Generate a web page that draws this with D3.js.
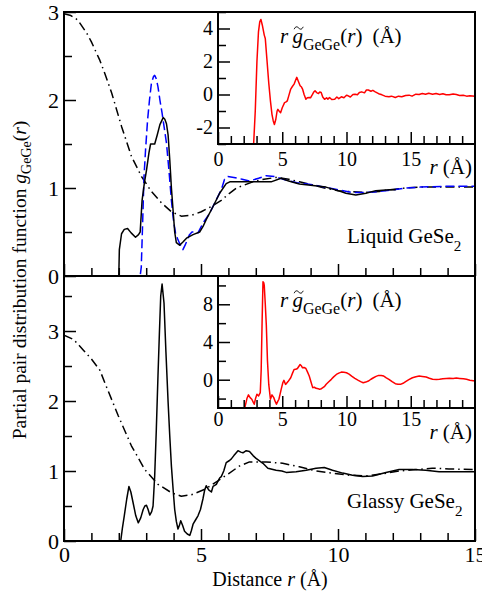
<!DOCTYPE html>
<html>
<head>
<meta charset="utf-8">
<script src="https://cdn.jsdelivr.net/npm/d3@7"></script>
<style>
  body { margin: 0; background: #fff; }
  svg { display: block; }
  svg text { font-family: "Liberation Serif", "DejaVu Serif", serif !important; fill: #000; }
</style>
</head>
<body>
<div id="chart"></div>
<script>
// --- data: [r (Å), value] ---
const liquidSolid = [[0,0],[2.0,0],[2.02,0.3],[2.1,0.48],[2.2,0.53],[2.32,0.54],[2.45,0.49],[2.61,0.44],[2.72,0.47],[2.78,0.5],[2.85,0.86],[2.93,1.05],[3.01,1.2],[3.1,1.4],[3.16,1.5],[3.31,1.5],[3.4,1.6],[3.5,1.72],[3.62,1.80],[3.68,1.78],[3.74,1.73],[3.8,1.6],[3.86,1.32],[3.92,1.0],[3.98,0.75],[4.04,0.5],[4.1,0.38],[4.22,0.35],[4.35,0.39],[4.47,0.43],[4.71,0.47],[4.95,0.5],[5.07,0.56],[5.19,0.64],[5.44,0.79],[5.68,0.94],[5.92,1.05],[6.05,1.07],[6.5,1.07],[7.0,1.07],[7.56,1.07],[7.92,1.11],[8.2,1.08],[8.59,1.045],[9.0,1.03],[9.56,1.01],[10.0,0.97],[10.29,0.94],[10.65,0.92],[11.02,0.94],[11.38,0.97],[11.87,0.98],[12.11,0.98]];
const liquidDashed = [[0,0],[2.78,0],[2.82,0.1],[2.86,0.5],[2.92,1.13],[2.98,1.45],[3.05,1.77],[3.12,2.0],[3.19,2.19],[3.27,2.27],[3.31,2.28],[3.37,2.24],[3.43,2.15],[3.5,2.0],[3.58,1.85],[3.66,1.68],[3.74,1.51],[3.83,1.2],[3.92,0.86],[4.0,0.62],[4.07,0.49],[4.15,0.42],[4.22,0.37],[4.34,0.3],[4.42,0.35],[4.5,0.41],[4.58,0.47],[4.67,0.5],[4.78,0.5],[4.89,0.49],[5.07,0.6],[5.31,0.71],[5.5,0.83],[5.74,0.98],[5.86,1.1],[5.98,1.13],[6.2,1.12],[6.5,1.1],[6.77,1.08],[7.1,1.11],[7.38,1.14],[7.7,1.13],[8.0,1.1],[8.5,1.06],[9.0,1.04],[9.5,1.01],[10.0,0.98],[10.5,0.95],[11.0,0.95],[11.5,0.96],[12.0,0.98],[12.5,1.0],[13.0,1.01],[14.0,1.02],[15.0,1.02]];
const liquidModel = [[0,2.98],[0.25,2.96],[0.5,2.91],[0.83,2.76],[1.0,2.66],[1.31,2.45],[1.49,2.3],[1.74,2.08],[2.1,1.70],[2.46,1.36],[2.83,1.13],[3.19,0.96],[3.56,0.83],[3.92,0.73],[4.28,0.68],[4.65,0.69],[5.01,0.73],[5.38,0.79],[5.74,0.86],[6.04,0.94],[6.3,1.0],[6.89,1.07],[7.3,1.1],[7.74,1.12],[8.2,1.1],[8.59,1.07],[9.0,1.04],[9.5,1.0],[10.0,0.97],[10.41,0.96],[11.0,0.95],[11.5,0.96],[11.87,0.98],[12.47,1.0],[13.0,1.01],[15.0,1.01]];
const liquidInset = [[2.76,-3.2],[2.9,-1],[3.03,2.0],[3.15,3.8],[3.25,4.4],[3.34,4.55],[3.45,4.2],[3.6,3.6],[3.68,3.39],[3.8,2.2],[3.95,0.7],[4.08,-0.39],[4.2,-1.2],[4.3,-1.6],[4.39,-1.82],[4.5,-1.5],[4.6,-1.0],[4.66,-0.9],[4.75,-1.0],[4.87,-1.1],[5.0,-0.8],[5.18,-0.49],[5.3,-0.45],[5.39,-0.39],[5.5,-0.1],[5.66,0.33],[5.8,0.5],[5.92,0.63],[6.03,0.85],[6.13,1.04],[6.25,0.8],[6.39,0.53],[6.5,0.45],[6.58,0.33],[6.7,0.0],[6.84,-0.29],[6.95,-0.2],[7.1,-0.18],[7.2,-0.2],[7.32,-0.04],[7.45,0.15],[7.55,0.22],[7.7,0.1],[7.82,0.06],[7.92,0.15],[8.03,0.12],[8.15,-0.15],[8.29,-0.29],[8.45,-0.2],[8.55,-0.28],[8.68,-0.18],[8.85,-0.3],[9.08,-0.29],[9.25,-0.15],[9.4,-0.25],[9.6,-0.14],[9.8,-0.2],[10.0,-0.05],[10.13,-0.08],[10.3,-0.15],[10.5,0.0],[10.66,0.02],[10.85,-0.02],[11.0,0.12],[11.18,0.16],[11.4,0.1],[11.55,0.27],[11.7,0.27],[11.9,0.2],[12.05,0.25],[12.24,0.16],[12.5,0.05],[12.76,-0.02],[13.0,-0.1],[13.3,-0.14],[13.5,-0.1],[13.8,-0.18],[14.05,-0.1],[14.3,-0.14],[14.6,-0.06],[14.87,-0.04],[15.1,-0.1],[15.4,0.02],[15.65,0.0],[15.9,0.06],[16.15,0.02],[16.4,0.08],[16.7,0.02],[16.97,0.06],[17.25,0.0],[17.5,0.05],[17.75,-0.02],[18.0,-0.02],[18.3,0.03],[18.55,0.0],[18.8,-0.06],[19.08,-0.04],[19.35,-0.1],[19.6,-0.08],[20.0,-0.1]];

const glassySolid = [[0,0],[2.07,0],[2.13,0.18],[2.2,0.36],[2.29,0.6],[2.37,0.78],[2.44,0.7],[2.52,0.55],[2.62,0.36],[2.71,0.26],[2.8,0.33],[2.89,0.45],[2.95,0.5],[3.01,0.51],[3.07,0.45],[3.13,0.37],[3.2,0.42],[3.25,0.5],[3.31,0.93],[3.37,1.6],[3.43,2.36],[3.48,2.95],[3.53,3.5],[3.58,3.67],[3.65,3.4],[3.72,2.7],[3.8,1.98],[3.86,1.5],[3.92,1.07],[3.98,0.75],[4.04,0.45],[4.1,0.28],[4.16,0.17],[4.21,0.22],[4.26,0.29],[4.33,0.22],[4.4,0.14],[4.5,0.1],[4.59,0.08],[4.65,0.15],[4.71,0.24],[4.8,0.3],[4.89,0.36],[4.98,0.45],[5.07,0.6],[5.13,0.72],[5.19,0.79],[5.28,0.73],[5.38,0.7],[5.44,0.78],[5.56,0.81],[5.68,0.9],[5.74,0.92],[5.83,1.0],[5.92,1.12],[6.04,1.15],[6.1,1.17],[6.2,1.22],[6.35,1.29],[6.45,1.27],[6.53,1.26],[6.65,1.29],[6.77,1.28],[6.9,1.22],[7.01,1.18],[7.26,1.11],[7.44,1.04],[7.74,1.01],[7.95,1.0],[8.11,0.98],[8.47,0.99],[8.84,1.01],[9.2,1.04],[9.5,1.05],[9.8,1.01],[10.17,0.97],[10.53,0.94],[10.9,0.92],[11.26,0.93],[11.75,0.98],[12.23,1.02],[12.72,1.02],[13.2,1.01],[13.69,0.99],[14.17,0.99],[14.66,0.99],[15,0.99]];
const glassyModel = [[0,2.94],[0.35,2.88],[0.7,2.73],[1.0,2.6],[1.31,2.44],[1.49,2.26],[1.98,1.79],[2.46,1.36],[2.95,1.02],[3.43,0.81],[3.92,0.69],[4.28,0.64],[4.65,0.66],[5.15,0.74],[5.62,0.86],[6.0,0.96],[6.4,1.07],[6.77,1.13],[7.38,1.13],[7.98,1.11],[8.59,1.06],[9.2,1.0],[9.8,0.97],[10.41,0.94],[11.02,0.93],[11.62,0.96],[12.23,1.0],[12.84,1.02],[13.44,1.04],[14.05,1.03],[15,1.02]];
const glassyInset = [[1.97,-3.2],[2.1,-2.9],[2.25,-2.0],[2.37,-1.61],[2.5,-1.9],[2.63,-2.07],[2.75,-2.4],[2.82,-2.6],[2.92,-2.0],[3.03,-1.54],[3.16,-1.72],[3.29,-1.37],[3.36,1.0],[3.43,6.0],[3.5,10.4],[3.56,10.3],[3.6,10.0],[3.68,8.0],[3.76,5.8],[3.85,2.0],[3.95,-0.5],[4.08,-2.07],[4.2,-1.61],[4.34,-1.9],[4.45,-2.3],[4.55,-2.6],[4.65,-2.3],[4.74,-2.07],[4.92,-1.0],[5.05,-0.3],[5.13,-0.07],[5.26,-0.5],[5.45,-0.2],[5.66,0.21],[5.8,0.7],[5.92,1.09],[6.05,1.1],[6.18,1.19],[6.39,1.61],[6.5,1.45],[6.58,1.26],[6.7,1.3],[6.84,1.19],[6.97,0.8],[7.1,0.39],[7.25,-0.3],[7.37,-0.84],[7.5,-0.8],[7.63,-0.91],[7.8,-0.95],[7.9,-1.02],[8.05,-0.95],[8.16,-0.84],[8.3,-0.7],[8.42,-0.49],[8.6,-0.25],[8.82,0.04],[9.0,0.3],[9.21,0.56],[9.4,0.7],[9.6,0.81],[9.8,0.78],[10.0,0.74],[10.2,0.6],[10.4,0.39],[10.65,0.15],[10.92,-0.07],[11.1,-0.2],[11.3,-0.32],[11.5,-0.25],[11.7,-0.14],[11.9,0.05],[12.1,0.21],[12.3,0.35],[12.5,0.46],[12.7,0.44],[12.9,0.39],[13.1,0.2],[13.3,0.04],[13.55,-0.2],[13.8,-0.42],[14.0,-0.48],[14.2,-0.49],[14.4,-0.38],[14.6,-0.21],[14.85,0.0],[15.13,0.21],[15.4,0.32],[15.66,0.39],[15.9,0.35],[16.2,0.28],[16.45,0.15],[16.7,0.04],[17.0,0.02],[17.24,0.04],[17.5,0.1],[17.76,0.14],[18.0,0.15],[18.3,0.14],[18.55,0.18],[18.8,0.14],[19.1,0.1],[19.34,0.04],[19.6,-0.05],[20.0,-0.14]];

// tick values
const mainXMajor = [0, 5, 10, 15];
const mainXMinor = d3.range(0, 16, 1);
const topYMajor = [0, 1, 2, 3];
const topYMinor = [0.5, 1.5, 2.5];
const botYMajor = [0, 1, 2, 3];
const botYMinor = [0.5, 1.5, 2.5, 3.5];
const insetXMajor = [0, 5, 10, 15];
const insetXMinor = d3.range(0, 21, 1);
const topInsetYMajor = [-2, 0, 2, 4];
const topInsetYMinor = [-3, -1, 1, 3, 5];
const botInsetYMajor = [0, 4, 8];
const botInsetYMinor = [-2, 2, 6, 10];

const W = 482, H = 599;
const svg = d3.select("#chart").append("svg").attr("width", W).attr("height", H);

const X0 = 64, X1 = 475;
const x = d3.scaleLinear().domain([0, 15]).range([X0, X1]);
const yTop = d3.scaleLinear().domain([0, 3]).range([276, 12]);
const yBot = d3.scaleLinear().domain([0, 3.786]).range([541, 276]);
const plain = d => String(d);   // keeps the plain hyphen in "-2"

let clipId = 0;
function clipRect(x0, y0, w, h) {
  const id = "clip" + (clipId++);
  svg.append("clipPath").attr("id", id).append("rect")
    .attr("x", x0).attr("y", y0).attr("width", w).attr("height", h);
  return "url(#" + id + ")";
}

function curve(g, data, xs, ys, color, dash, width) {
  g.append("path")
    .datum(data)
    .attr("fill", "none")
    .attr("stroke", color)
    .attr("stroke-width", width || 1.5)
    .attr("stroke-dasharray", dash || null)
    .attr("stroke-linejoin", "round")
    .attr("d", d3.line().x(d => xs(d[0])).y(d => ys(d[1])));
}

// inward ticks via d3 axis, domain line hidden
function ticks(axisFn, scale, values, size, transform) {
  const a = svg.append("g").attr("transform", transform)
    .call(axisFn(scale).tickValues(values).tickSize(size).tickFormat(""));
  a.select(".domain").remove();
  a.selectAll(".tick line").attr("stroke", "#000").attr("stroke-width", 1.5);
  return a;
}

function labels(axisFn, scale, values, transform, fontSize, pad) {
  const a = svg.append("g").attr("transform", transform)
    .call(axisFn(scale).tickValues(values).tickSize(0).tickPadding(pad).tickFormat(plain));
  a.select(".domain").remove();
  a.attr("font-family", null);
  a.selectAll("text").attr("font-size", fontSize).attr("fill", "#000");
  return a;
}

function frame(x0, y0, w, h) {
  svg.append("rect").attr("x", x0).attr("y", y0).attr("width", w).attr("height", h)
    .attr("fill", "none").attr("stroke", "#000").attr("stroke-width", 2);
}

// ---------- top panel (liquid) ----------
const gTop = svg.append("g").attr("clip-path", clipRect(X0, 12, X1 - X0, 264));
curve(gTop, liquidModel, x, yTop, "#000", "9,4,1.5,4");
curve(gTop, liquidDashed, x, yTop, "#0000ff", "9,4");
curve(gTop, liquidSolid, x, yTop, "#000");

ticks(d3.axisBottom, x, mainXMinor.filter(v => v % 5), -8, "translate(0,276)");
ticks(d3.axisBottom, x, mainXMajor, -12, "translate(0,276)");
ticks(d3.axisLeft, yTop, topYMinor, -8, `translate(${X0},0)`);
ticks(d3.axisLeft, yTop, topYMajor, -12, `translate(${X0},0)`);
labels(d3.axisLeft, yTop, topYMajor, `translate(${X0},0)`, 22, 5);

// ---------- bottom panel (glassy) ----------
const gBot = svg.append("g").attr("clip-path", clipRect(X0, 276, X1 - X0, 265));
curve(gBot, glassyModel, x, yBot, "#000", "9,4,1.5,4");
curve(gBot, glassySolid, x, yBot, "#000");

ticks(d3.axisBottom, x, mainXMinor.filter(v => v % 5), -8, "translate(0,541)");
ticks(d3.axisBottom, x, mainXMajor, -12, "translate(0,541)");
ticks(d3.axisLeft, yBot, botYMinor, -8, `translate(${X0},0)`);
ticks(d3.axisLeft, yBot, botYMajor, -12, `translate(${X0},0)`);
labels(d3.axisLeft, yBot, botYMajor, `translate(${X0},0)`, 22, 5);
labels(d3.axisBottom, x, mainXMajor, "translate(0,541)", 22, 5);

frame(X0, 12, X1 - X0, 264);
frame(X0, 276, X1 - X0, 265);

// panel labels
function subLabel(xp, yp, main, sub, size) {
  const t = svg.append("text").attr("x", xp).attr("y", yp).attr("font-size", size);
  t.append("tspan").text(main);
  t.append("tspan").attr("font-size", size * 0.72).attr("dy", 8).text(sub);
}
subLabel(347, 243, "Liquid GeSe", "2", 21);
subLabel(347, 508, "Glassy GeSe", "2", 21);

// small tilde mark drawn over a glyph
function tilde(cx, cy) {
  svg.append("path")
    .attr("d", `M${cx - 4.5},${cy + 1.2} C${cx - 3},${cy - 2} ${cx - 1.5},${cy - 1.5} ${cx},${cy} S${cx + 3},${cy + 2} ${cx + 4.5},${cy - 1.2}`)
    .attr("fill", "none").attr("stroke", "#000").attr("stroke-width", 1);
}

// ---------- insets ----------
function inset(top, bottom, domainY, data, yMajor, yMinor, numY, rY) {
  const I0 = 218, I1 = X1;
  const xi = d3.scaleLinear().domain([0, 20]).range([I0, I1]);
  const yi = d3.scaleLinear().domain(domainY).range([bottom, top]);
  svg.append("rect").attr("x", I0).attr("y", top).attr("width", I1 - I0).attr("height", bottom - top)
    .attr("fill", "#fff");
  const g = svg.append("g").attr("clip-path", clipRect(I0, top, I1 - I0, bottom - top));
  curve(g, data, xi, yi, "#ff0000", null, 1.5);

  ticks(d3.axisBottom, xi, insetXMinor.filter(v => v % 5), -8, `translate(0,${bottom})`);
  ticks(d3.axisBottom, xi, insetXMajor, -12, `translate(0,${bottom})`);
  ticks(d3.axisLeft, yi, yMinor, -8, `translate(${I0},0)`);
  ticks(d3.axisLeft, yi, yMajor, -12, `translate(${I0},0)`);
  labels(d3.axisLeft, yi, yMajor, `translate(${I0},0)`, 20, 5);
  const xl = labels(d3.axisBottom, xi, insetXMajor, `translate(0,${bottom})`, 20, 0);
  xl.selectAll("text").attr("y", numY - bottom).attr("dy", null);
  frame(I0, top, I1 - I0, bottom - top);

  // "r (Å)" axis label
  const rl = svg.append("text").attr("x", 472).attr("y", rY).attr("font-size", 21)
    .attr("text-anchor", "end");
  rl.append("tspan").attr("font-style", "italic").text("r");
  rl.append("tspan").text(" (Å)");

  // r g~_GeGe(r) (Å)
  const ty = top + 31;
  const t = svg.append("text").attr("x", 280).attr("y", ty).attr("font-size", 21);
  t.append("tspan").attr("font-style", "italic").text("r");
  t.append("tspan").attr("font-style", "italic").attr("dx", 5).text("g");
  t.append("tspan").attr("font-size", 16).attr("dy", 7).text("GeGe");
  t.append("tspan").attr("dy", -7).text("(");
  t.append("tspan").attr("font-style", "italic").text("r");
  t.append("tspan").text(")");
  t.append("tspan").attr("dx", 10).text("(Å)");
  const ext = t.node().getExtentOfChar(1);
  tilde(ext.x + ext.width / 2 + 1, ty - 15);
}
inset(12, 144, [-3, 5], liquidInset, topInsetYMajor, topInsetYMinor, 166, 174);
inset(276, 408, [-3, 11], glassyInset, botInsetYMajor, botInsetYMinor, 426, 439);

// ---------- axis titles ----------
const xt = svg.append("text").attr("x", 270).attr("y", 586).attr("font-size", 20)
  .attr("text-anchor", "middle");
xt.append("tspan").text("Distance ");
xt.append("tspan").attr("font-style", "italic").text("r");
xt.append("tspan").text(" (Å)");

const yt = svg.append("text").attr("transform", "translate(26,280) rotate(-90)")
  .attr("font-size", 19.5).attr("text-anchor", "middle");
yt.append("tspan").text("Partial pair distribution function ");
yt.append("tspan").attr("font-style", "italic").text("g");
yt.append("tspan").attr("font-size", 14).attr("dy", 5).text("GeGe");
yt.append("tspan").attr("dy", -5).text("(");
yt.append("tspan").attr("font-style", "italic").text("r");
yt.append("tspan").text(")");
</script>
</body>
</html>
